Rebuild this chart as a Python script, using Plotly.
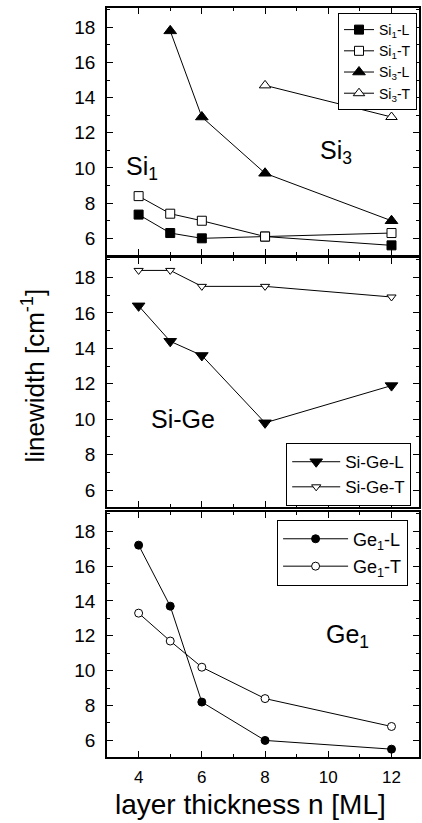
import plotly.graph_objects as go

# Layer thickness n [ML]
n_si1 = [4, 5, 6, 8, 12]
n_si3_l = [5, 6, 8, 12]
n_si3_t = [8, 12]
n_sige = [4, 5, 6, 8, 12]
n_ge1 = [4, 5, 6, 8, 12]

# Linewidths [cm^-1]
si1_l = [7.35, 6.3, 6.0, 6.1, 5.6]
si1_t = [8.4, 7.4, 7.0, 6.1, 6.3]
si3_l = [17.8, 12.9, 9.7, 7.0]
si3_t = [14.7, 12.9]
sige_l = [16.4, 14.4, 13.6, 9.8, 11.9]
sige_t = [18.4, 18.4, 17.5, 17.5, 16.9]
ge1_l = [17.2, 13.7, 8.2, 6.0, 5.5]
ge1_t = [13.3, 11.7, 10.2, 8.4, 6.8]

x_ticks = [4, 6, 8, 10, 12]
y_ticks = [6, 8, 10, 12, 14, 16, 18]

FONT = "Liberation Sans, Arial, Helvetica, sans-serif"
BLACK = "black"

fig = go.Figure()


def add(x, y, name, symbol, size, filled, xa, ya, legend, group):
    fig.add_trace(go.Scatter(
        x=x, y=y, name=name, mode="lines+markers",
        line=dict(color=BLACK, width=1),
        marker=dict(symbol=symbol, size=size,
                    color=BLACK if filled else "white",
                    line=dict(color=BLACK, width=1)),
        xaxis=xa, yaxis=ya, legend=legend, legendgroup=group,
    ))


add(n_si1, si1_l, "Si<sub>1</sub>-L", "square", 9, True, "x", "y", "legend", "a")
add(n_si1, si1_t, "Si<sub>1</sub>-T", "square", 9, False, "x", "y", "legend", "b")
add(n_si3_l, si3_l, "Si<sub>3</sub>-L", "triangle-up", 11, True, "x", "y", "legend", "c")
add(n_si3_t, si3_t, "Si<sub>3</sub>-T", "triangle-up", 10, False, "x", "y", "legend", "d")

add(n_sige, sige_l, "Si-Ge-L", "triangle-down", 11, True, "x2", "y2", "legend2", "e")
add(n_sige, sige_t, "Si-Ge-T", "triangle-down", 8, False, "x2", "y2", "legend2", "f")

add(n_ge1, ge1_l, "Ge<sub>1</sub>-L", "circle", 8, True, "x3", "y3", "legend3", "g")
add(n_ge1, ge1_t, "Ge<sub>1</sub>-T", "circle", 8, False, "x3", "y3", "legend3", "h")

xr = [3, 12.87]
yr = [5.05, 19.1]
domains = {"": [0.6702, 1.0], "2": [0.3338, 0.6662], "3": [0.0, 0.3271]}

common_axis = dict(
    showline=True, mirror="allticks", linecolor=BLACK, linewidth=1.5,
    ticks="inside", tickcolor=BLACK, ticklen=6, tickwidth=1.2,
    showgrid=False, zeroline=False,
    minor=dict(ticks="inside", ticklen=3, tickcolor=BLACK, tickwidth=1, dtick=1, showgrid=False),
    tickfont=dict(family=FONT, size=19, color=BLACK),
)

layout = {}
for k, dom in domains.items():
    layout["xaxis" + k] = dict(
        common_axis, range=xr, domain=[0, 1], anchor="y" + k,
        tickvals=x_ticks, showticklabels=(k == "3"),
        tickfont=dict(family=FONT, size=17, color=BLACK),
        ticklabelstandoff=4,
    )
    layout["yaxis" + k] = dict(
        common_axis, range=yr, domain=dom, anchor="x" + k,
        tickvals=y_ticks, ticklabelstandoff=6,
    )

legend_common = dict(
    xref="paper", yref="paper", xanchor="right", yanchor="top",
    bgcolor="white", bordercolor=BLACK, borderwidth=1,
    tracegroupgap=0,
)

fig.update_layout(
    **layout,
    width=422, height=823,
    margin=dict(l=107, r=1, t=8, b=66),
    paper_bgcolor="white", plot_bgcolor="white",
    font=dict(family=FONT, color=BLACK),
    showlegend=True,
    legend=dict(legend_common, x=0.9936, y=0.9933, itemwidth=30,
                font=dict(family=FONT, size=14, color=BLACK)),
    legend2=dict(legend_common, x=0.975, y=0.419, itemwidth=48,
                 font=dict(family=FONT, size=17, color=BLACK)),
    legend3=dict(legend_common, x=0.965, y=0.317, itemwidth=65, tracegroupgap=1,
                 font=dict(family=FONT, size=18, color=BLACK)),
)

annotations = [
    dict(text="Si<sub>1</sub>", x=4.12, y=10.0, xref="x", yref="y"),
    dict(text="Si<sub>3</sub>", x=10.25, y=10.9, xref="x", yref="y"),
    dict(text="Si-Ge", x=5.4, y=10.0, xref="x2", yref="y2"),
    dict(text="Ge<sub>1</sub>", x=10.6, y=12.0, xref="x3", yref="y3"),
]
for a in annotations:
    fig.add_annotation(showarrow=False, font=dict(family=FONT, color=BLACK, size=25), **a)

# Axis titles
fig.add_annotation(text="layer thickness n [ML]", xref="paper", yref="paper",
                   x=0.4586, y=-0.0628, xanchor="center", yanchor="middle", showarrow=False,
                   font=dict(family=FONT, size=28, color=BLACK))
fig.add_annotation(text="linewidth [cm<sup>-1</sup>]", xref="paper", yref="paper",
                   x=-0.2357, y=0.51, xanchor="center", yanchor="middle",
                   textangle=-90, showarrow=False,
                   font=dict(family=FONT, size=26, color=BLACK))

fig.write_html("out.html")
